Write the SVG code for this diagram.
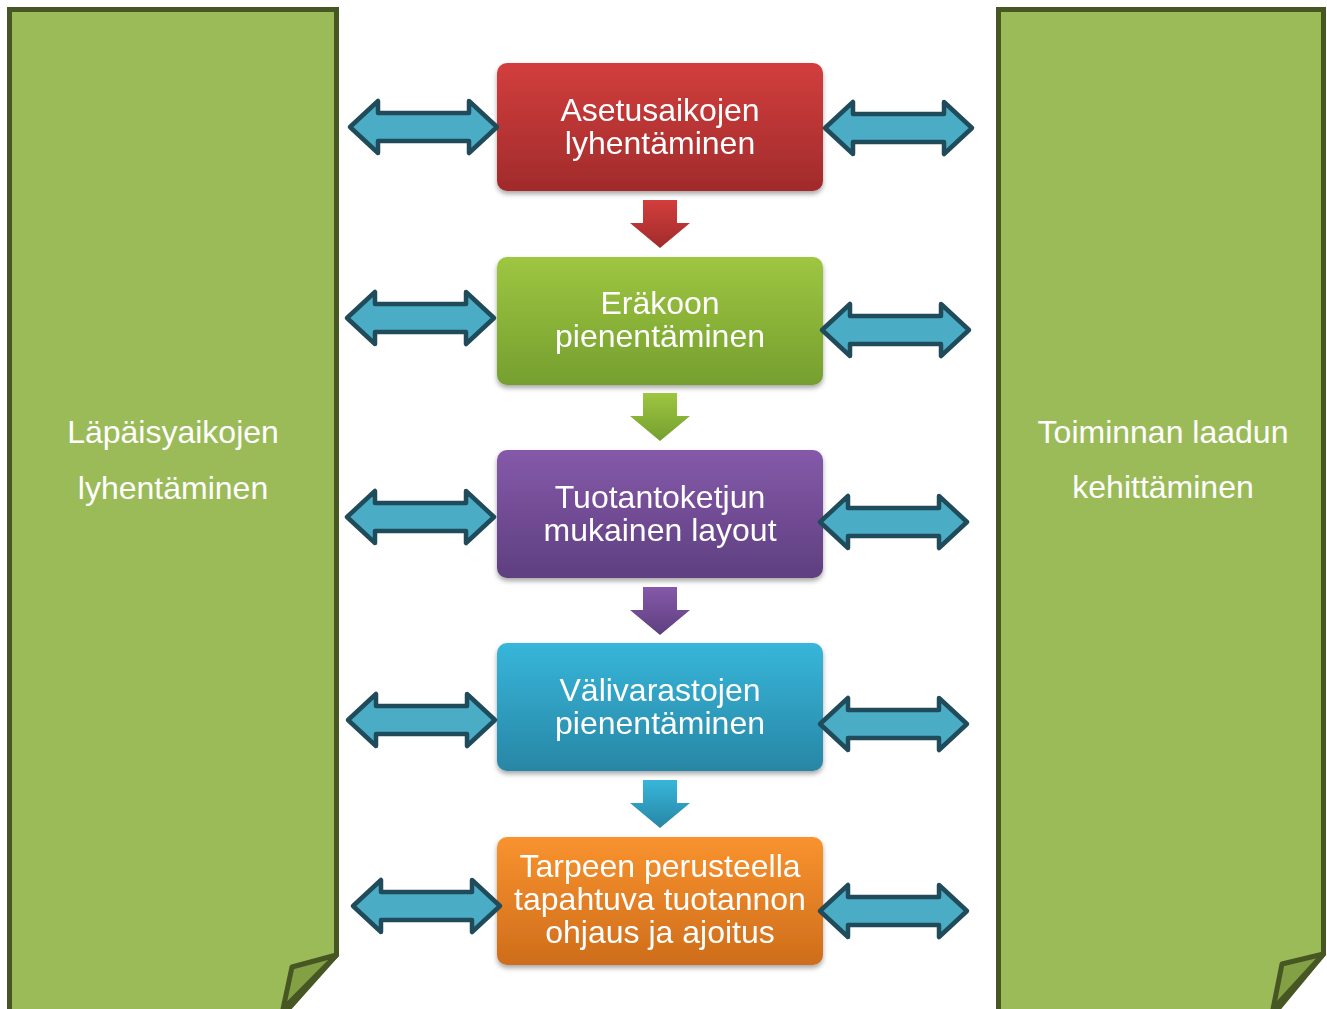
<svg xmlns="http://www.w3.org/2000/svg" xmlns:xlink="http://www.w3.org/1999/xlink" width="1327" height="1009" viewBox="0 0 1327 1009">
<defs>
<style>
.panel{fill:#9bbb59;stroke:#465723;stroke-width:5;stroke-linejoin:miter}
.fold{fill:#84a044;stroke:#465723;stroke-width:5;stroke-linejoin:round}
.dbl{fill:#4bacc6;stroke:#1f4b5a;stroke-width:4.5;stroke-linejoin:round}
.btxt{font-family:"Liberation Sans",Arial,sans-serif;font-size:32px;fill:#ffffff;text-anchor:middle}
.ptxt{font-family:"Liberation Sans",Arial,sans-serif;font-size:32px;fill:#ffffff;text-anchor:middle}
</style>
<linearGradient id="gRed" x1="0" y1="0" x2="0" y2="1"><stop offset="0" stop-color="#d23e3d"/><stop offset="1" stop-color="#a12b2b"/></linearGradient>
<linearGradient id="gGreen" x1="0" y1="0" x2="0" y2="1"><stop offset="0" stop-color="#9ec641"/><stop offset="1" stop-color="#759f2f"/></linearGradient>
<linearGradient id="gPurple" x1="0" y1="0" x2="0" y2="1"><stop offset="0" stop-color="#8559a9"/><stop offset="1" stop-color="#5e3f80"/></linearGradient>
<linearGradient id="gBlue" x1="0" y1="0" x2="0" y2="1"><stop offset="0" stop-color="#37b6da"/><stop offset="1" stop-color="#2886a5"/></linearGradient>
<linearGradient id="gOrange" x1="0" y1="0" x2="0" y2="1"><stop offset="0" stop-color="#f9932f"/><stop offset="1" stop-color="#ce6d1b"/></linearGradient>
<filter id="sh" x="-10%" y="-10%" width="120%" height="130%"><feDropShadow dx="0" dy="3" stdDeviation="2.5" flood-color="#000" flood-opacity="0.35"/></filter>
<path id="dblArrow" class="dbl" d="M0,0 L28,-26 L28,-14 L119,-14 L119,-26 L147,0 L119,26 L119,14 L28,14 L28,26 Z"/>
<path id="downArrow" d="M-17,0 H17 V23 H30 L0,48 L-30,23 H-17 Z"/>
</defs>

<g id="panel-left">
<path class="panel" d="M9.5,9.5 H336.5 V955 L283,1015 H9.5 Z"/>
<path class="fold" d="M336.5,955 L292,967 L283,1009 Z"/>
<text class="ptxt" x="173" y="443">Läpäisyaikojen</text>
<text class="ptxt" x="173" y="499">lyhentäminen</text>
</g>

<g id="panel-right">
<path class="panel" d="M998.5,9.5 H1323.5 V954 L1273,1015 H998.5 Z"/>
<path class="fold" d="M1323.5,954 L1282,964 L1273,1009 Z"/>
<text class="ptxt" x="1163" y="443">Toiminnan laadun</text>
<text class="ptxt" x="1163" y="498">kehittäminen</text>
</g>

<g id="box-1" filter="url(#sh)">
<rect x="497" y="63" width="326" height="128" rx="10" fill="url(#gRed)"/>
<text class="btxt" x="660" y="121">Asetusaikojen</text>
<text class="btxt" x="660" y="154">lyhentäminen</text>
</g>
<g id="box-2" filter="url(#sh)">
<rect x="497" y="257" width="326" height="128" rx="10" fill="url(#gGreen)"/>
<text class="btxt" x="660" y="314">Eräkoon</text>
<text class="btxt" x="660" y="347">pienentäminen</text>
</g>
<g id="box-3" filter="url(#sh)">
<rect x="497" y="450" width="326" height="128" rx="10" fill="url(#gPurple)"/>
<text class="btxt" x="660" y="508">Tuotantoketjun</text>
<text class="btxt" x="660" y="541">mukainen layout</text>
</g>
<g id="box-4" filter="url(#sh)">
<rect x="497" y="643" width="326" height="128" rx="10" fill="url(#gBlue)"/>
<text class="btxt" x="660" y="701">Välivarastojen</text>
<text class="btxt" x="660" y="734">pienentäminen</text>
</g>
<g id="box-5" filter="url(#sh)">
<rect x="497" y="837" width="326" height="128" rx="10" fill="url(#gOrange)"/>
<text class="btxt" x="660" y="877">Tarpeen perusteella</text>
<text class="btxt" x="660" y="910">tapahtuva tuotannon</text>
<text class="btxt" x="660" y="943">ohjaus ja ajoitus</text>
</g>

<g id="connectors">
<use xlink:href="#downArrow" transform="translate(660,200)" fill="url(#gRed)"/>
<use xlink:href="#downArrow" transform="translate(660,393)" fill="url(#gGreen)"/>
<use xlink:href="#downArrow" transform="translate(660,587)" fill="url(#gPurple)"/>
<use xlink:href="#downArrow" transform="translate(660,780)" fill="url(#gBlue)"/>

<use xlink:href="#dblArrow" transform="translate(350,127)"/>
<use xlink:href="#dblArrow" transform="translate(347,318)"/>
<use xlink:href="#dblArrow" transform="translate(347,517)"/>
<use xlink:href="#dblArrow" transform="translate(348,720)"/>
<use xlink:href="#dblArrow" transform="translate(353,906)"/>

<use xlink:href="#dblArrow" transform="translate(825,128)"/>
<use xlink:href="#dblArrow" transform="translate(822,330)"/>
<use xlink:href="#dblArrow" transform="translate(820,522)"/>
<use xlink:href="#dblArrow" transform="translate(820,724)"/>
<use xlink:href="#dblArrow" transform="translate(820,911)"/>
</g>
</svg>
